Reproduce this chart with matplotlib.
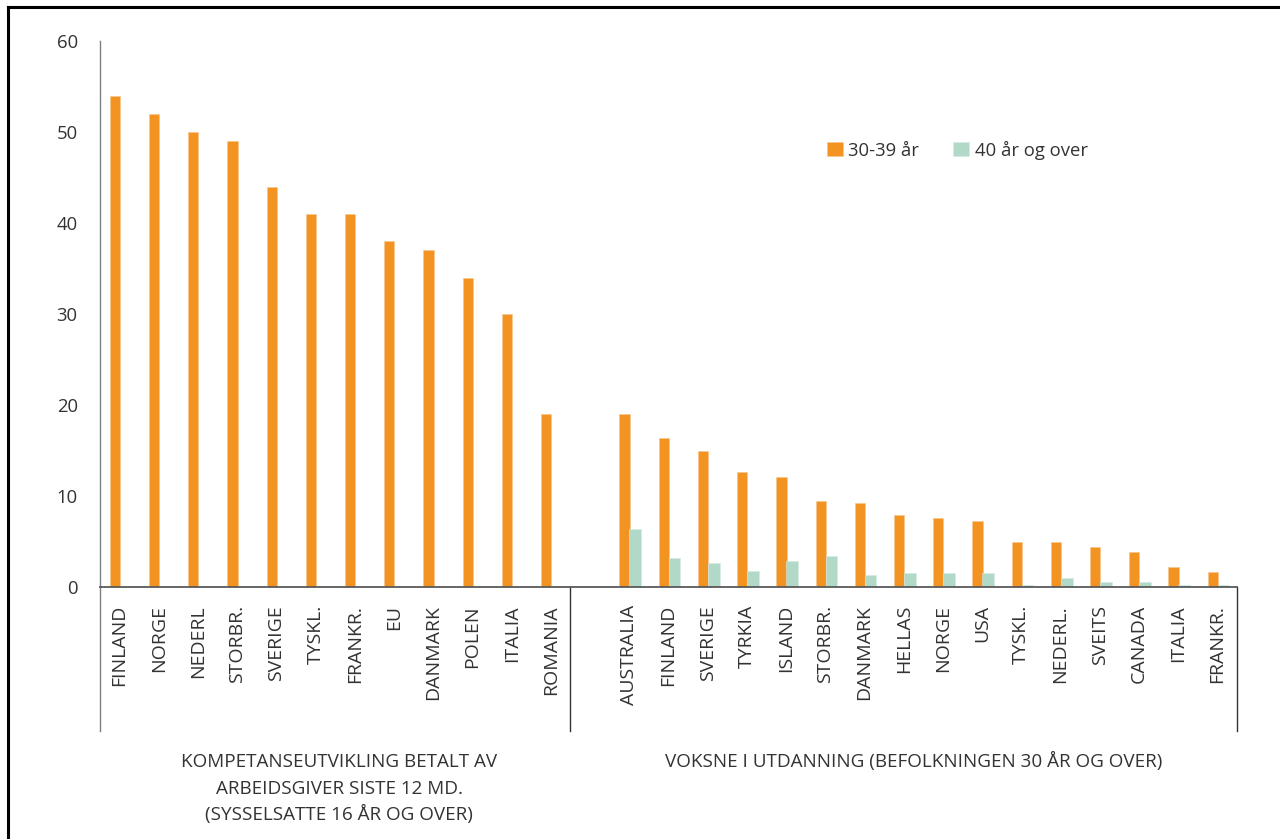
import matplotlib
matplotlib.use("Agg")
import matplotlib.pyplot as plt
from matplotlib.lines import Line2D
import numpy as np

plt.rcParams['font.family'] = ['Open Sans', 'DejaVu Sans']

# Employer-paid skills development, employed 16 years and over
group1_labels = ["FINLAND", "NORGE", "NEDERL", "STORBR.", "SVERIGE", "TYSKL.",
                 "FRANKR.", "EU", "DANMARK", "POLEN", "ITALIA", "ROMANIA"]
group1_values = [54, 52, 50, 49, 44, 41, 41, 38, 37, 34, 30, 19]

# Adults in education, population 30 years and over
group2_labels = ["AUSTRALIA", "FINLAND", "SVERIGE", "TYRKIA", "ISLAND", "STORBR.",
                 "DANMARK", "HELLAS", "NORGE", "USA", "TYSKL.", "NEDERL.",
                 "SVEITS", "CANADA", "ITALIA", "FRANKR."]
group2_age30_39 = [19.0, 16.4, 15.0, 12.6, 12.1, 9.4, 9.2, 7.9, 7.6, 7.3,
                   4.9, 4.9, 4.4, 3.8, 2.2, 1.7]
group2_age40plus = [6.4, 3.2, 2.6, 1.8, 2.9, 3.4, 1.3, 1.5, 1.5, 1.5,
                    0.2, 1.0, 0.5, 0.5, 0.2, 0.2]

series_names = ["30-39 år", "40 år og over"]
group1_title = ["KOMPETANSEUTVIKLING BETALT AV",
                "ARBEIDSGIVER SISTE 12 MD.",
                "(SYSSELSATTE 16 ÅR OG OVER)"]
group2_title = ["VOKSNE I UTDANNING (BEFOLKNINGEN 30 ÅR OG OVER)"]
y_ticks = [0, 10, 20, 30, 40, 50, 60]

ORANGE = "#F39322"
GREEN = "#B2D8C8"
TEXT = "#333333"

W, H = 1280, 839
fig = plt.figure(figsize=(W / 100, H / 100), dpi=100)
ax = fig.add_axes([100 / W, 1 - 587 / H, 1137 / W, 546 / H])

n1, n2 = len(group1_labels), len(group2_labels)
x1 = np.arange(n1)
x2 = np.arange(n2) + n1 + 1

orange_off, orange_w = -0.12, 0.26
green_off, green_w = 0.155, 0.30

ax.bar(x1 + orange_off, group1_values, width=orange_w, color=ORANGE,
       edgecolor="#F9C48A", linewidth=0.4, zorder=2, label=series_names[0])
ax.bar(x2 + orange_off, group2_age30_39, width=orange_w, color=ORANGE,
       edgecolor="#F9C48A", linewidth=0.4, zorder=2)
ax.bar(x2 + green_off, group2_age40plus, width=green_w, color=GREEN,
       edgecolor="#D3EAE0", linewidth=0.4, zorder=2, label=series_names[1])

ax.set_xlim(-0.5, n1 + n2 + 0.5)
ax.set_ylim(0, 60)
ax.set_yticks(y_ticks)
ax.set_xticks(np.concatenate([x1, x2]))
ax.set_xticklabels(group1_labels + group2_labels, rotation=90, fontsize=14, color=TEXT)
ax.tick_params(axis="x", length=0, pad=13.0)
ax.tick_params(axis="y", length=0, pad=16.0, labelsize=13.3, labelcolor=TEXT)

for s in ("top", "right"):
    ax.spines[s].set_visible(False)
ax.spines["left"].set_color("#7f7f7f")
ax.spines["left"].set_linewidth(1.0)
ax.spines["bottom"].set_color("#595959")
ax.spines["bottom"].set_linewidth(1.3)
ax.spines["bottom"].set_zorder(3)

# group separators below the baseline
trans = ax.get_xaxis_transform()
sep_bottom = -(731 - 587) / 546
for xs, col in [(-0.5, "#7f7f7f"), (n1 - 0.5, "#333333"), (n1 + n2 + 0.5, "#333333")]:
    ax.add_line(Line2D([xs, xs], [0, sep_bottom], transform=trans,
                       color=col, linewidth=1.0, clip_on=False))

# group titles, one line at a time
baselines_px = [767, 794, 820]
for line, bpx in zip(group1_title, baselines_px):
    ax.text(5.6, -(bpx - 587) / 546, line, transform=trans, ha="center",
            va="baseline", fontsize=13.6, color=TEXT)
for line, bpx in zip(group2_title, baselines_px):
    ax.text(20.25, -(bpx - 587) / 546, line, transform=trans, ha="center",
            va="baseline", fontsize=13.6, color=TEXT)

leg = fig.legend(loc="center left", bbox_to_anchor=(827 / W, 1 - 150 / H),
                 ncol=2, frameon=False, fontsize=13.3, handlelength=0.85,
                 handleheight=0.85, handletextpad=0.3, columnspacing=1.85,
                 borderpad=0, borderaxespad=0)
for t in leg.get_texts():
    t.set_color(TEXT)

# frame lines along top and left
fig.add_artist(Line2D([8 / W, 1.0], [1 - 7 / H, 1 - 7 / H], transform=fig.transFigure,
                      color="black", linewidth=2.2))
fig.add_artist(Line2D([8 / W, 8 / W], [0.0, 1 - 7 / H], transform=fig.transFigure,
                      color="black", linewidth=2.2))

fig.savefig("out.png", dpi=100)
